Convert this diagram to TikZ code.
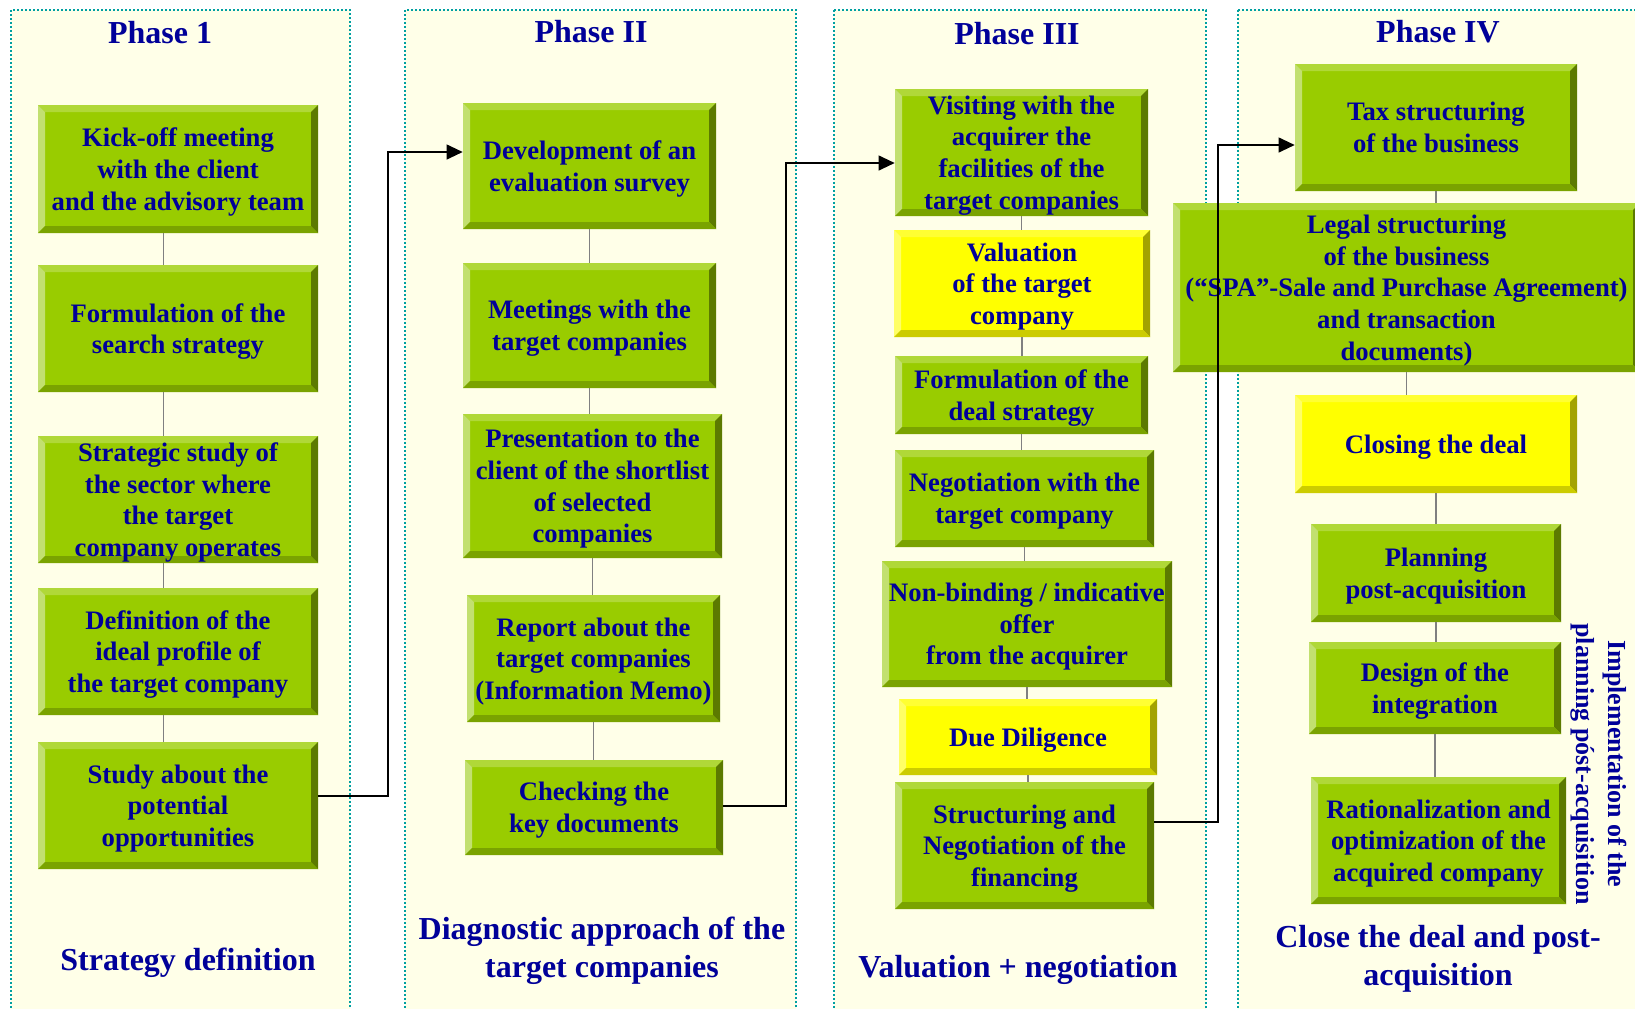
\documentclass[tikz,border=0pt]{standalone}
\usepackage{fontspec}
\setmainfont{Liberation Serif}
\usetikzlibrary{arrows.meta,calc}
\definecolor{navy}{RGB}{0,0,153}
\definecolor{panelbg}{RGB}{255,255,232}
\definecolor{panelline}{RGB}{0,160,160}
\definecolor{gface}{RGB}{153,204,0}
\definecolor{gtop}{RGB}{176,216,56}
\definecolor{gleft}{RGB}{194,224,112}
\definecolor{gright}{RGB}{92,122,0}
\definecolor{gbottom}{RGB}{122,163,0}
\definecolor{yface}{RGB}{255,255,0}
\definecolor{ytop}{RGB}{255,255,51}
\definecolor{yleft}{RGB}{255,255,102}
\definecolor{yright}{RGB}{163,163,0}
\definecolor{ybottom}{RGB}{204,204,0}
\tikzset{
  bevel/.style n args={4}{path picture={
    \coordinate (bvnw) at (path picture bounding box.north west);
    \coordinate (bvne) at (path picture bounding box.north east);
    \coordinate (bvse) at (path picture bounding box.south east);
    \coordinate (bvsw) at (path picture bounding box.south west);
    \coordinate (bvinw) at ($(bvnw)!5.25pt!(bvne)+(bvnw)!5.25pt!(bvsw)-(bvnw)$);
    \coordinate (bvine) at ($(bvne)!5.25pt!(bvnw)+(bvne)!5.25pt!(bvse)-(bvne)$);
    \coordinate (bvise) at ($(bvse)!5.25pt!(bvsw)+(bvse)!5.25pt!(bvne)-(bvse)$);
    \coordinate (bvisw) at ($(bvsw)!5.25pt!(bvse)+(bvsw)!5.25pt!(bvnw)-(bvsw)$);
    \fill[#1] (bvnw) -- (bvne) -- (bvine) -- (bvinw) -- cycle;
    \fill[#2] (bvnw) -- (bvinw) -- (bvisw) -- (bvsw) -- cycle;
    \fill[#3] (bvne) -- (bvse) -- (bvise) -- (bvine) -- cycle;
    \fill[#4] (bvsw) -- (bvisw) -- (bvise) -- (bvse) -- cycle;
  }}
}
\begin{document}
\begin{tikzpicture}[x=0.75pt,y=0.75pt,yscale=-1,xscale=1,
  panel/.style={fill=panelbg, draw=panelline, line width=1.5pt, dash pattern=on 1.5pt off 1.5pt},
  stage/.style={rectangle, inner sep=0pt, align=center, text=navy, font=\bfseries\fontsize{20}{23.8}\selectfont,
    text depth=-1pt},
  gstage/.style={stage, fill=gface, bevel={gtop}{gleft}{gright}{gbottom}},
  ystage/.style={stage, fill=yface, bevel={ytop}{yleft}{yright}{ybottom}},
  wh/.style 2 args={minimum width=#1*0.75pt, minimum height=#2*0.75pt},
  phase/.style={text=navy, align=center, font=\bfseries\fontsize{24}{28.5}\selectfont},
  link/.style={draw={rgb,255:red,128;green,128;blue,128}, line width=1.1pt},
  flow/.style={draw=black, line width=1.5pt, -{Triangle[length=12pt,width=11pt]}}]
\useasboundingbox (0,0) rectangle (1635,1008);

%Shape: Rectangle [panels]
\draw[panel] (11,10) rectangle (350,1015);
\draw[panel] (405,10) rectangle (796,1015);
\draw[panel] (834,10) rectangle (1206,1015);
\draw[panel] (1238,10) rectangle (1650,1015);

% Text Node
\node[phase] (h1) at (160,33) {Phase 1};
\node[phase] (h2) at (591,32) {Phase II};
\node[phase] (h3) at (1017,34) {Phase III};
\node[phase] (h4) at (1438,32) {Phase IV};

%Phase 1 boxes
\node[gstage, wh={280}{128}] (k1) at (178,169) {Kick-off meeting\\with the client\\and the advisory team};
\node[gstage, wh={280}{127}] (k2) at (178,328.5) {Formulation of the\\search strategy};
\node[gstage, wh={280}{127}] (k3) at (178,499.5) {Strategic study of\\the sector where\\the target\\company operates};
\node[gstage, wh={280}{127}] (k4) at (178,651.5) {Definition of the\\ideal profile of\\the target company};
\node[gstage, wh={280}{127}] (k5) at (178,805.5) {Study about the\\potential\\opportunities};

%Phase II boxes
\node[gstage, wh={253}{126}] (d1) at (589.5,166) {Development of an\\evaluation survey};
\node[gstage, wh={253}{125}] (d2) at (589.5,325.5) {Meetings with the\\target companies};
\node[gstage, wh={259}{144}] (d3) at (592.5,486) {Presentation to the\\client of the shortlist\\of selected\\companies};
\node[gstage, wh={253}{127}] (d4) at (593.5,658.5) {Report about the\\target companies\\(Information Memo)};
\node[gstage, wh={258}{95}] (d5) at (594,807.5) {Checking the\\key documents};

%Phase III boxes
\node[gstage, wh={253}{127}] (v1) at (1021.5,152.5) {Visiting with the\\acquirer the\\facilities of the\\target companies};
\node[ystage, wh={256}{107}] (v2) at (1022,283.5) {Valuation\\of the target\\company};
\node[gstage, wh={253}{78}] (v3) at (1021.5,395) {Formulation of the\\deal strategy};
\node[gstage, wh={259}{97}] (v4) at (1024.5,498.5) {Negotiation with the\\target company};
\node[gstage, wh={290}{126}] (v5) at (1027,624) {Non-binding / indicative\\offer\\from the acquirer};
\node[ystage, wh={258}{76}] (v6) at (1028,737) {Due Diligence};
\node[gstage, wh={259}{127}] (v7) at (1024.5,845.5) {Structuring and\\Negotiation of the\\financing};

%Phase IV boxes
\node[gstage, wh={282}{127}] (c1) at (1436,127.5) {Tax structuring\\of the business};
\node[gstage, wh={467}{169}] (c2) at (1406.5,287.5) {Legal structuring\\of the business\\(“SPA”-Sale and Purchase Agreement)\\and transaction\\documents)};
\node[ystage, wh={282}{98}] (c3) at (1436,444) {Closing the deal};
\node[gstage, wh={250}{98}] (c4) at (1436,573) {Planning\\post-acquisition};
\node[gstage, wh={252}{92}] (c5) at (1435,688) {Design of the\\integration};
\node[gstage, wh={255}{127}] (c6) at (1438.5,840.5) {Rationalization and\\optimization of the\\acquired company};

%Straight Lines [links]
\foreach \a/\b in {k1/k2,k2/k3,k3/k4,k4/k5}
  \draw[link] ([xshift=-11pt]\a.south) -- ([xshift=-11pt]\b.north);
\foreach \a/\b in {d1/d2,d2/d3,d3/d4,d4/d5,v1/v2,v2/v3,v3/v4,v4/v5,v5/v6,v6/v7,c1/c2,c2/c3,c3/c4,c4/c5,c5/c6}
  \draw[link] (\a.south) -- (\a.south |- \b.north);

% Text Node
\node[text=navy, align=center, rotate=-90, font=\bfseries\fontsize{19.5}{24}\selectfont] (r1) at (1599,764) {Implementation of the\\planning póst-acquisition};

% Text Node
\node[phase] (s1) at (188,963) {Strategy definition};
\node[phase] (s2) at (602,951) {Diagnostic approach of the\\target companies};
\node[phase] (s3) at (1018,970) {Valuation + negotiation};
\node[phase] (s4) at (1438,959) {Close the deal and post-\\acquisition};

%Connectors between phases
\coordinate (t1) at (388,152);
\coordinate (b1) at (388,796);
\draw[flow] (k5.east |- b1) -- (b1) -- (t1) -- (t1 -| d1.west);
\coordinate (t2) at (786,163);
\coordinate (b2) at (786,806);
\draw[flow] (d5.east |- b2) -- (b2) -- (t2) -- (t2 -| v1.west);
\coordinate (t3) at (1218,145);
\coordinate (b3) at (1218,822);
\draw[flow] (v7.east |- b3) -- (b3) -- (t3) -- (t3 -| c1.west);
\end{tikzpicture}
\end{document}
